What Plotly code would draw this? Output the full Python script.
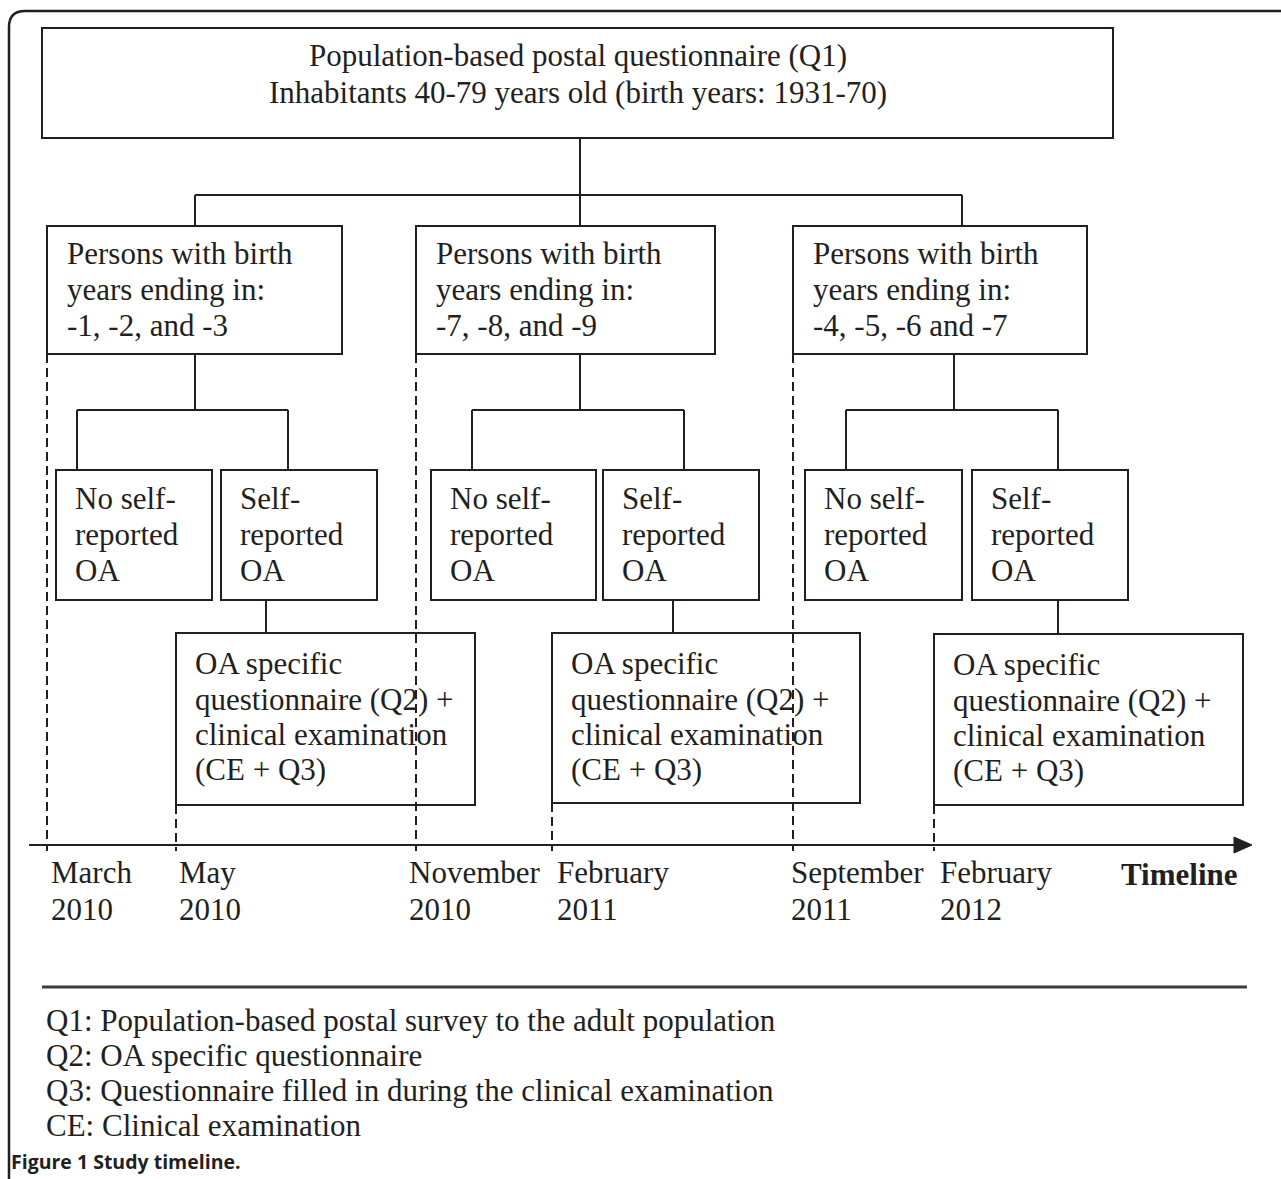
import plotly.graph_objects as go

# ---------------- text content ----------------
top_text = ["Population-based postal questionnaire (Q1)",
            "Inhabitants 40-79 years old (birth years: 1931-70)"]
group_text = [
    ["Persons with birth", "years ending in:", "-1, -2, and -3"],
    ["Persons with birth", "years ending in:", "-7, -8, and -9"],
    ["Persons with birth", "years ending in:", "-4, -5, -6 and -7"],
]
no_oa_text = ["No self-", "reported", "OA"]
oa_text = ["Self-", "reported", "OA"]
followup_text = ["OA specific", "questionnaire (Q2) +", "clinical examination", "(CE + Q3)"]
month_labels = ["March", "May", "November", "February", "September", "February"]
year_labels = ["2010", "2010", "2010", "2011", "2011", "2012"]
axis_title = "Timeline"
footnotes = ["Q1: Population-based postal survey to the adult population",
             "Q2: OA specific questionnaire",
             "Q3: Questionnaire filled in during the clinical examination",
             "CE: Clinical examination"]
caption = "Figure 1 Study timeline."

# ---------------- layout geometry (pixel coordinates) ----------------
W, H = 1281, 1179
TOP_BOX = (42, 28, 1113, 138)
TOP_LINE_Y = [55, 92]
BUS_Y = 195
GROUP_DROP_X = [195, 580, 962]
GROUP_BOX_X = [(47, 342), (416, 715), (793, 1087)]
GROUP_BOX_Y = (226, 354)
GROUP_LINE_Y = [253, 289, 325]
GROUP_STEM_X = [195, 580, 954]
SUB_BUS_Y = 410
SUB_BUS_X = [(77, 288), (472, 684), (846, 1058)]
NO_BOX_X = [(56, 212), (431, 596), (805, 962)]
YES_BOX_X = [(221, 377), (603, 759), (972, 1128)]
SUB_BOX_Y = (470, 600)
SUB_LINE_Y = [498, 534, 570]
YES_STEM_X = [266, 673, 1058]
FOLLOW_BOX = [(176, 633, 475, 805), (552, 633, 860, 803), (934, 634, 1243, 805)]
FOLLOW_LINE_DY = [30, 66, 101, 136]
TIMELINE_Y = 845
TIMELINE_X = (29, 1236)
MARK_X = [47, 176, 416, 552, 793, 934]
MARK_TOP = [354, 805, 354, 803, 354, 805]
MARK_BOTTOM = 851
LABEL_X = [50, 178, 408, 556, 790, 939]
LABEL_Y = [872, 909]
TITLE_POS = (1120, 874)
SEP = (42, 1247, 987)
FOOT_X = 45
FOOT_Y = [1020, 1055, 1090, 1125]
CAPTION_POS = (10, 1161)
PAD = 19  # text inset inside boxes

INK = "#231f20"
SERIF = "Liberation Serif"
FS = 31

shapes = []
annotations = []


def rect(x0, y0, x1, y1):
    shapes.append(dict(type="rect", xref="x", yref="y", x0=x0, y0=y0, x1=x1, y1=y1,
                       line=dict(color=INK, width=2), fillcolor="rgba(0,0,0,0)", layer="above"))


def seg(x0, y0, x1, y1, dash=None, width=2, color=INK):
    ln = dict(color=color, width=width)
    if dash:
        ln["dash"] = dash
    shapes.append(dict(type="line", xref="x", yref="y", x0=x0, y0=y0, x1=x1, y1=y1,
                       line=ln, layer="above"))


def text(x, y, s, anchor="left", size=FS, family=SERIF, bold=False):
    annotations.append(dict(x=x, y=y, xref="x", yref="y", text=("<b>%s</b>" % s) if bold else s,
                            showarrow=False, xanchor=anchor, yanchor="middle", borderpad=0,
                            font=dict(family=family, size=size, color=INK)))


# outer frame (top + left with rounded corner)
shapes.append(dict(type="path", xref="x", yref="y",
                   path="M 9 %d L 9 27 Q 9 11 25 11 L %d 11" % (H + 2, W + 2),
                   line=dict(color=INK, width=2.5)))

# top box
rect(*TOP_BOX)
cx = (TOP_BOX[0] + TOP_BOX[2]) / 2
for s, y in zip(top_text, TOP_LINE_Y):
    text(cx, y, s, anchor="center")

# connector from top box to bus
seg(580, TOP_BOX[3], 580, BUS_Y)
seg(GROUP_DROP_X[0], BUS_Y, GROUP_DROP_X[-1], BUS_Y)

for g in range(3):
    gx0, gx1 = GROUP_BOX_X[g]
    seg(GROUP_DROP_X[g], BUS_Y, GROUP_DROP_X[g], GROUP_BOX_Y[0])
    rect(gx0, GROUP_BOX_Y[0], gx1, GROUP_BOX_Y[1])
    for s, y in zip(group_text[g], GROUP_LINE_Y):
        text(gx0 + PAD, y, s)
    # stem to sub bus
    seg(GROUP_STEM_X[g], GROUP_BOX_Y[1], GROUP_STEM_X[g], SUB_BUS_Y)
    bx0, bx1 = SUB_BUS_X[g]
    seg(bx0, SUB_BUS_Y, bx1, SUB_BUS_Y)
    seg(bx0, SUB_BUS_Y, bx0, SUB_BOX_Y[0])
    seg(bx1, SUB_BUS_Y, bx1, SUB_BOX_Y[0])
    # sub boxes
    nx0, nx1 = NO_BOX_X[g]
    rect(nx0, SUB_BOX_Y[0], nx1, SUB_BOX_Y[1])
    for s, y in zip(no_oa_text, SUB_LINE_Y):
        text(nx0 + PAD - 1, y, s)
    yx0, yx1 = YES_BOX_X[g]
    rect(yx0, SUB_BOX_Y[0], yx1, SUB_BOX_Y[1])
    for s, y in zip(oa_text, SUB_LINE_Y):
        text(yx0 + PAD - 1, y, s)
    # follow-up box
    fx0, fy0, fx1, fy1 = FOLLOW_BOX[g]
    seg(YES_STEM_X[g], SUB_BOX_Y[1], YES_STEM_X[g], fy0)
    rect(fx0, fy0, fx1, fy1)
    for s, dy in zip(followup_text, FOLLOW_LINE_DY):
        text(fx0 + PAD - 1, fy0 + dy, s)

# timeline
seg(TIMELINE_X[0], TIMELINE_Y, TIMELINE_X[1], TIMELINE_Y)
ax = TIMELINE_X[1]
shapes.append(dict(type="path", xref="x", yref="y",
                   path="M %d %d L %d %d L %d %d Z" % (ax - 2, TIMELINE_Y - 8, ax + 16, TIMELINE_Y,
                                                       ax - 2, TIMELINE_Y + 8),
                   fillcolor=INK, line=dict(color=INK, width=1)))
for mx, mt in zip(MARK_X, MARK_TOP):
    seg(mx, mt, mx, MARK_BOTTOM, dash="9px,5px")
for lx, m, yr in zip(LABEL_X, month_labels, year_labels):
    text(lx, LABEL_Y[0], m)
    text(lx, LABEL_Y[1], yr)
text(TITLE_POS[0], TITLE_POS[1], axis_title, bold=True)

# separator and footnotes
seg(SEP[0], SEP[2], SEP[1], SEP[2], width=3, color="#3c3c3c")
for s, y in zip(footnotes, FOOT_Y):
    text(FOOT_X, y, s)

text(CAPTION_POS[0], CAPTION_POS[1], caption, size=19.5, family="Open Sans", bold=True)

fig = go.Figure()
fig.update_layout(
    width=W, height=H, autosize=False,
    margin=dict(l=0, r=0, t=0, b=0),
    paper_bgcolor="white", plot_bgcolor="white",
    xaxis=dict(range=[0, W], visible=False, fixedrange=True),
    yaxis=dict(range=[H, 0], visible=False, fixedrange=True),
    shapes=shapes, annotations=annotations, showlegend=False,
)
fig.write_html("out.html", config={"displayModeBar": False},
               post_script="document.body.style.margin='0';document.body.style.overflow='hidden';")
